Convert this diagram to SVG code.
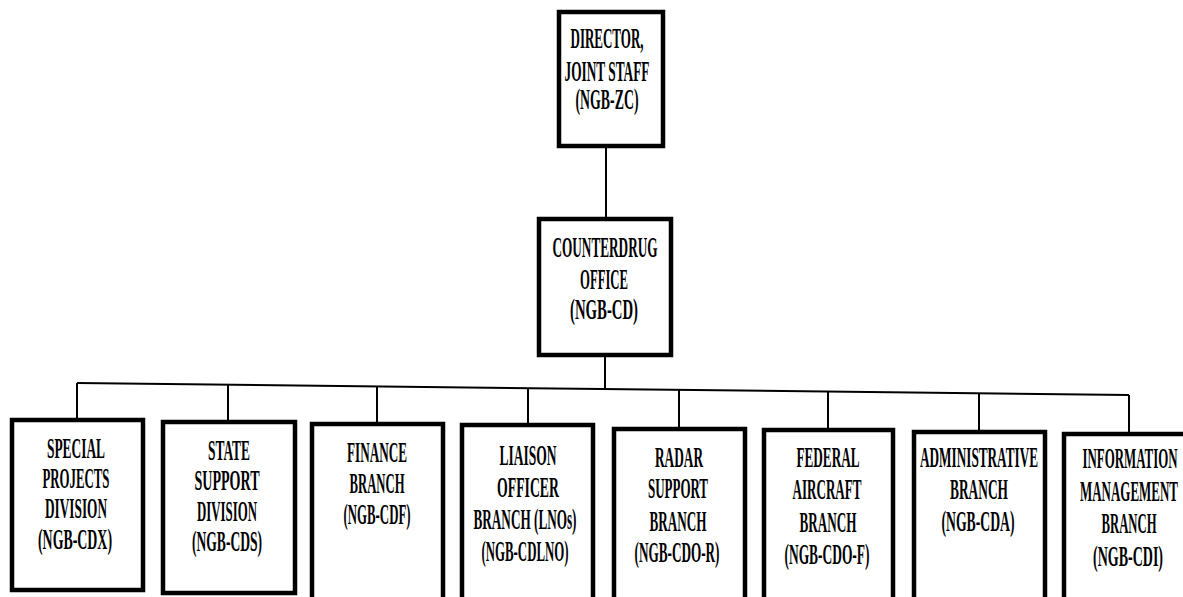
<svg xmlns="http://www.w3.org/2000/svg" width="1183" height="597" viewBox="0 0 1183 597">
<style>
.box{fill:#fff;stroke:#000;stroke-width:4.5}
.ln{stroke:#000;stroke-width:2;fill:none}
.t{font-family:"Liberation Serif","Times New Roman",serif;font-size:30px;font-weight:bold;fill:#000;text-anchor:middle}
</style>
<rect width="1183" height="597" fill="#fff"/>
<g id="connectors">
<line class="ln" x1="606" y1="148" x2="606" y2="217"/>
<line class="ln" x1="605" y1="357" x2="605" y2="389"/>
<line class="ln" x1="77" y1="383" x2="1129" y2="395" stroke-width="2.5"/>
<line class="ln" x1="77" y1="383" x2="77" y2="418"/>
<line class="ln" x1="228" y1="385" x2="228" y2="420"/>
<line class="ln" x1="377" y1="386" x2="377" y2="422"/>
<line class="ln" x1="528" y1="388" x2="528" y2="423"/>
<line class="ln" x1="679" y1="390" x2="679" y2="427"/>
<line class="ln" x1="828" y1="391" x2="828" y2="428"/>
<line class="ln" x1="979" y1="393" x2="979" y2="430"/>
<line class="ln" x1="1129" y1="395" x2="1129" y2="432"/>
</g>
<g id="director">
<rect class="box" x="559" y="12" width="104" height="134"/>
<text class="t" transform="translate(607 48) scale(0.5 1)" textLength="146" lengthAdjust="spacingAndGlyphs">DIRECTOR,</text>
<text class="t" transform="translate(607 81) scale(0.5 1)" textLength="170" lengthAdjust="spacingAndGlyphs">JOINT STAFF</text>
<text class="t" transform="translate(607 109) scale(0.5 1)" textLength="126" lengthAdjust="spacingAndGlyphs">(NGB-ZC)</text>
</g>
<g id="counterdrug">
<rect class="box" x="539" y="219" width="132" height="136"/>
<text class="t" transform="translate(605 257) scale(0.5 1)" textLength="210" lengthAdjust="spacingAndGlyphs">COUNTERDRUG</text>
<text class="t" transform="translate(604 289) scale(0.5 1)" textLength="96" lengthAdjust="spacingAndGlyphs">OFFICE</text>
<text class="t" transform="translate(604 319) scale(0.5 1)" textLength="136" lengthAdjust="spacingAndGlyphs">(NGB-CD)</text>
</g>
<g id="special-projects">
<rect class="box" x="12" y="420" width="131" height="170"/>
<text class="t" transform="translate(76 458) scale(0.5 1)" textLength="116" lengthAdjust="spacingAndGlyphs">SPECIAL</text>
<text class="t" transform="translate(76 488) scale(0.5 1)" textLength="134" lengthAdjust="spacingAndGlyphs">PROJECTS</text>
<text class="t" transform="translate(76 518) scale(0.5 1)" textLength="124" lengthAdjust="spacingAndGlyphs">DIVISION</text>
<text class="t" transform="translate(75 549) scale(0.5 1)" textLength="148" lengthAdjust="spacingAndGlyphs">(NGB-CDX)</text>
</g>
<g id="state-support">
<rect class="box" x="163" y="422" width="132" height="171"/>
<text class="t" transform="translate(229 460) scale(0.5 1)" textLength="84" lengthAdjust="spacingAndGlyphs">STATE</text>
<text class="t" transform="translate(227 490) scale(0.5 1)" textLength="130" lengthAdjust="spacingAndGlyphs">SUPPORT</text>
<text class="t" transform="translate(227 521) scale(0.5 1)" textLength="120" lengthAdjust="spacingAndGlyphs">DIVISION</text>
<text class="t" transform="translate(227 551) scale(0.5 1)" textLength="140" lengthAdjust="spacingAndGlyphs">(NGB-CDS)</text>
</g>
<g id="finance">
<rect class="box" x="312" y="424" width="131" height="176"/>
<text class="t" transform="translate(377 462) scale(0.5 1)" textLength="120" lengthAdjust="spacingAndGlyphs">FINANCE</text>
<text class="t" transform="translate(377 493) scale(0.5 1)" textLength="110" lengthAdjust="spacingAndGlyphs">BRANCH</text>
<text class="t" transform="translate(377 524) scale(0.5 1)" textLength="134" lengthAdjust="spacingAndGlyphs">(NGB-CDF)</text>
</g>
<g id="liaison">
<rect class="box" x="462" y="425" width="131" height="175"/>
<text class="t" transform="translate(528 465) scale(0.5 1)" textLength="114" lengthAdjust="spacingAndGlyphs">LIAISON</text>
<text class="t" transform="translate(528 497) scale(0.5 1)" textLength="124" lengthAdjust="spacingAndGlyphs">OFFICER</text>
<text class="t" transform="translate(525 529) scale(0.5 1)" textLength="206" lengthAdjust="spacingAndGlyphs">BRANCH (LNOs)</text>
<text class="t" transform="translate(525 561) scale(0.5 1)" textLength="174" lengthAdjust="spacingAndGlyphs">(NGB-CDLNO)</text>
</g>
<g id="radar">
<rect class="box" x="614" y="429" width="131" height="175"/>
<text class="t" transform="translate(679 467) scale(0.5 1)" textLength="96" lengthAdjust="spacingAndGlyphs">RADAR</text>
<text class="t" transform="translate(678 498) scale(0.5 1)" textLength="120" lengthAdjust="spacingAndGlyphs">SUPPORT</text>
<text class="t" transform="translate(678 531) scale(0.5 1)" textLength="114" lengthAdjust="spacingAndGlyphs">BRANCH</text>
<text class="t" transform="translate(677 562) scale(0.5 1)" textLength="170" lengthAdjust="spacingAndGlyphs">(NGB-CDO-R)</text>
</g>
<g id="federal-aircraft">
<rect class="box" x="764" y="430" width="129" height="175"/>
<text class="t" transform="translate(828 467) scale(0.5 1)" textLength="126" lengthAdjust="spacingAndGlyphs">FEDERAL</text>
<text class="t" transform="translate(827 499) scale(0.5 1)" textLength="138" lengthAdjust="spacingAndGlyphs">AIRCRAFT</text>
<text class="t" transform="translate(828 532) scale(0.5 1)" textLength="114" lengthAdjust="spacingAndGlyphs">BRANCH</text>
<text class="t" transform="translate(827 564) scale(0.5 1)" textLength="170" lengthAdjust="spacingAndGlyphs">(NGB-CDO-F)</text>
</g>
<g id="administrative">
<rect class="box" x="914" y="432" width="131" height="175"/>
<text class="t" transform="translate(979 467) scale(0.5 1)" textLength="236" lengthAdjust="spacingAndGlyphs">ADMINISTRATIVE</text>
<text class="t" transform="translate(979 499) scale(0.5 1)" textLength="116" lengthAdjust="spacingAndGlyphs">BRANCH</text>
<text class="t" transform="translate(978 531) scale(0.5 1)" textLength="146" lengthAdjust="spacingAndGlyphs">(NGB-CDA)</text>
</g>
<g id="information-management">
<rect class="box" x="1064" y="434" width="133" height="175"/>
<text class="t" transform="translate(1130 468) scale(0.5 1)" textLength="190" lengthAdjust="spacingAndGlyphs">INFORMATION</text>
<text class="t" transform="translate(1129 501) scale(0.5 1)" textLength="196" lengthAdjust="spacingAndGlyphs">MANAGEMENT</text>
<text class="t" transform="translate(1129 533) scale(0.5 1)" textLength="110" lengthAdjust="spacingAndGlyphs">BRANCH</text>
<text class="t" transform="translate(1128 566) scale(0.5 1)" textLength="140" lengthAdjust="spacingAndGlyphs">(NGB-CDI)</text>
</g>
</svg>
